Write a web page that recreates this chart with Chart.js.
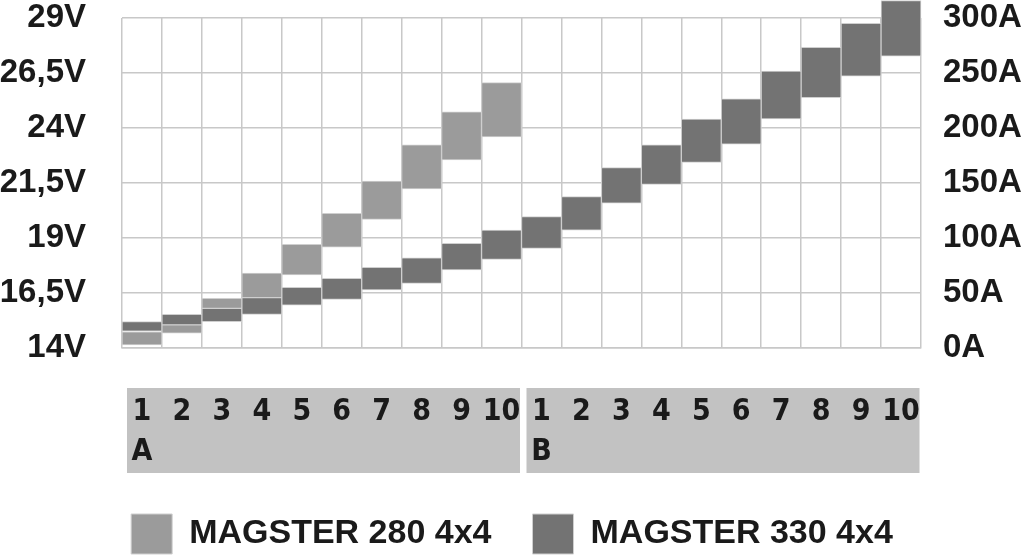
<!DOCTYPE html>
<html lang="it">
  <head>
    <meta charset="utf-8" />
    <title>MAGSTER 280 / 330 4x4</title>
    <style>
      html, body { margin: 0; padding: 0; background: #ffffff; }
      #wrap { width: 1024px; height: 555px; }
    </style>
  </head>
  <body>
    <div id="wrap">
      <canvas id="magsterChart" width="1024" height="555"></canvas>
    </div>

    <script src="https://cdn.jsdelivr.net/npm/chart.js"></script>
    <script>
      // posizioni del commutatore: numero e gruppo (A / B)
      const steps = ['1', '2', '3', '4', '5', '6', '7', '8', '9', '10',
                     '1', '2', '3', '4', '5', '6', '7', '8', '9', '10'];
      const groups = ['A', 'A', 'A', 'A', 'A', 'A', 'A', 'A', 'A', 'A',
                      'B', 'B', 'B', 'B', 'B', 'B', 'B', 'B', 'B', 'B'];

      // campo di tensione (V) per ogni posizione
      const m280Low  = [14.14, 14.67, 15.80, 16.29, 17.32, 18.58, 19.85, 21.23, 22.55, 23.60];
      const m280High = [14.74, 15.05, 16.26, 17.40, 18.71, 20.12, 21.59, 23.23, 24.73, 26.06];
      const m330Low  = [14.77, 15.05, 15.20, 15.53, 15.95, 16.21, 16.64, 16.94, 17.55, 18.03,
                        18.53, 19.36, 20.58, 21.44, 22.44, 23.27, 24.41, 25.38, 26.36, 27.27];
      const m330High = [15.20, 15.53, 15.80, 16.29, 16.76, 17.17, 17.67, 18.10, 18.76, 19.36,
                        19.97, 20.88, 22.20, 23.23, 24.40, 25.33, 26.59, 27.67, 28.76, 29.79];

      // assi
      const voltTicks = [14, 16.5, 19, 21.5, 24, 26.5, 29];
      const ampTicks = [0, 50, 100, 150, 200, 250, 300];

      const gridColor = '#c8c8c8';
      const textColor = '#1a1a1a';
      const axisFont = { family: "'Liberation Sans', Arial, sans-serif", size: 33, weight: 'bold', lineHeight: 1 };
      // 'condensed' finisce nella stringa font del canvas (font-stretch)
      const stepFont = { family: "'Liberation Sans Narrow', 'DejaVu Sans', sans-serif", size: 30, weight: 'bold condensed', lineHeight: 40 / 30 };

      const labels = steps.map((s, i) => [s, (i === 0 || groups[i] !== groups[i - 1]) ? groups[i] : '']);
      const ranges280 = steps.map((s, i) => i < m280Low.length ? [m280Low[i], m280High[i]] : null);
      const ranges330 = m330Low.map((v, i) => [v, m330High[i]]);

      // fasce grigie dietro le etichette delle posizioni
      const groupBoxes = {
        id: 'groupBoxes',
        beforeDraw(chart) {
          const x = chart.scales.x;
          const ctx = chart.ctx;
          const col = x.width / steps.length;
          const top = chart.chartArea.bottom + 40;
          const bottom = chart.chartArea.bottom + 125;
          let start = 0;
          ctx.save();
          ctx.fillStyle = '#c2c2c2';
          for (let i = 1; i <= groups.length; i++) {
            if (i === groups.length || groups[i] !== groups[start]) {
              const left = x.getPixelForTick(start) - col / 2 + 5;
              const right = x.getPixelForTick(i - 1) + col / 2 - 1.5;
              ctx.fillRect(left, top, right - left, bottom - top);
              start = i;
            }
          }
          ctx.restore();
        }
      };

      const ctx = document.getElementById('magsterChart').getContext('2d');
      new Chart(ctx, {
        type: 'bar',
        data: {
          labels: labels,
          datasets: [
            {
              label: 'MAGSTER 280 4x4',
              data: ranges280,
              backgroundColor: '#9b9b9b',
              borderColor: '#cfcfcf',
              borderWidth: 1,
              borderSkipped: false,
              grouped: false,
              barPercentage: 1,
              categoryPercentage: 1,
              clip: false
            },
            {
              label: 'MAGSTER 330 4x4',
              data: ranges330,
              backgroundColor: '#737373',
              borderColor: '#cfcfcf',
              borderWidth: 1,
              borderSkipped: false,
              grouped: false,
              barPercentage: 1,
              categoryPercentage: 1,
              clip: false
            }
          ]
        },
        options: {
          responsive: false,
          animation: false,
          devicePixelRatio: 1,
          layout: { padding: { top: 18, bottom: -9, left: 0, right: 0 } },
          scales: {
            x: {
              grid: { offset: true, color: gridColor, lineWidth: 1.5, drawTicks: true, tickLength: 44, tickColor: 'rgba(0,0,0,0)' },
              border: { display: true, color: gridColor, width: 1.5 },
              ticks: { font: stepFont, color: textColor, padding: 0, maxRotation: 0, autoSkip: false },
              afterFit(scale) { scale.height = 125; }
            },
            y: {
              position: 'left',
              min: voltTicks[0],
              max: voltTicks[voltTicks.length - 1],
              afterBuildTicks(scale) { scale.ticks = voltTicks.map(v => ({ value: v })); },
              grid: { color: gridColor, lineWidth: 1.5, drawTicks: true, tickLength: 36, tickColor: 'rgba(0,0,0,0)' },
              border: { display: false },
              ticks: {
                font: axisFont,
                color: textColor,
                padding: 0,
                callback: v => String(v).replace('.', ',') + 'V'
              },
              afterFit(scale) { scale.width = 122; }
            },
            yA: {
              position: 'right',
              min: ampTicks[0],
              max: ampTicks[ampTicks.length - 1],
              afterBuildTicks(scale) { scale.ticks = ampTicks.map(v => ({ value: v })); },
              grid: { drawOnChartArea: false, drawTicks: true, tickLength: 22, tickColor: 'rgba(0,0,0,0)' },
              border: { display: false },
              ticks: {
                font: axisFont,
                color: textColor,
                padding: 0,
                callback: v => v + 'A'
              },
              afterFit(scale) { scale.width = 103; }
            }
          },
          plugins: {
            legend: {
              position: 'bottom',
              labels: {
                boxWidth: 41,
                boxHeight: 40,
                padding: 41,
                color: textColor,
                font: { family: "'Liberation Sans', Arial, sans-serif", size: 34, weight: 'bold' }
              }
            },
            tooltip: { enabled: false }
          }
        },
        plugins: [groupBoxes]
      });
    </script>
  </body>
</html>
